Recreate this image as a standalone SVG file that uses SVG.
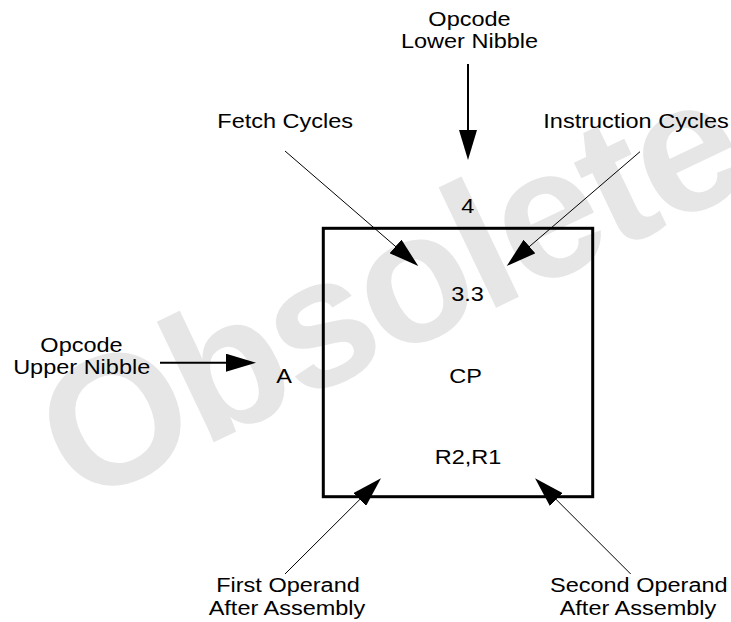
<svg xmlns="http://www.w3.org/2000/svg" width="731" height="622" viewBox="0 0 731 622">
<style>
text { font-family: "Liberation Sans", Arial, sans-serif; font-size: 20px; fill: #000; }
.mid { text-anchor: middle; }
.wm { font-family: "Liberation Sans", Arial, sans-serif; font-weight: bold; font-size: 184px; letter-spacing: -5px; fill: #e6e6e6; }
.thick { stroke: #000; stroke-width: 2; fill: none; }
.thin { stroke: #000; stroke-width: 1; fill: none; }
</style>
<defs>
<marker id="ah" viewBox="0 0 30 18" refX="20" refY="9" markerWidth="30" markerHeight="18" markerUnits="userSpaceOnUse" orient="auto">
<path d="M0,0 L30,9 L0,18 Z" fill="#000"/>
</marker>
</defs>
<rect width="731" height="622" fill="#fff"/>
<text class="wm" x="0" y="0" transform="translate(78 507) rotate(-25.5)">Obsolete</text>

<g id="box">
<rect x="323.3" y="228.3" width="269.4" height="268.4" fill="none" stroke="#000" stroke-width="3"/>
<text class="mid" transform="translate(467.5 300.5) scale(1.175 1)">3.3</text>
<text class="mid" transform="translate(465.5 382.7) scale(1.175 1)">CP</text>
<text class="mid" transform="translate(468 464) scale(1.175 1)">R2,R1</text>
</g>
<g id="label-lower">
<text class="mid" transform="translate(469.5 26) scale(1.175 1)">Opcode</text>
<text class="mid" transform="translate(469.5 47.5) scale(1.175 1)">Lower Nibble</text>
</g>
<g id="label-4">
<text class="mid" transform="translate(467.7 213) scale(1.175 1)">4</text>
</g>
<g id="label-fetch">
<text transform="translate(217.3 128) scale(1.175 1)">Fetch Cycles</text>
</g>
<g id="label-instr">
<text transform="translate(543.3 128) scale(1.175 1)">Instruction Cycles</text>
</g>
<g id="label-upper">
<text class="mid" transform="translate(81.5 351.7) scale(1.175 1)">Opcode</text>
<text class="mid" transform="translate(81.7 374) scale(1.175 1)">Upper Nibble</text>
</g>
<g id="label-A">
<text class="mid" transform="translate(284 382.7) scale(1.175 1)">A</text>
</g>
<g id="label-first">
<text class="mid" transform="translate(288 591.7) scale(1.175 1)">First Operand</text>
<text class="mid" transform="translate(287 615) scale(1.175 1)">After Assembly</text>
</g>
<g id="label-second">
<text class="mid" transform="translate(638.8 591.7) scale(1.175 1)">Second Operand</text>
<text class="mid" transform="translate(638 615) scale(1.175 1)">After Assembly</text>
</g>

<g id="connectors">
<line class="thick" x1="468" y1="64" x2="468" y2="150" marker-end="url(#ah)"/>
<line class="thick" x1="160" y1="362.7" x2="246" y2="362.7" marker-end="url(#ah)"/>
<line class="thin" x1="285" y1="151" x2="410.7" y2="259.5" marker-end="url(#ah)"/>
<line class="thin" x1="640" y1="151.7" x2="514.3" y2="259.5" marker-end="url(#ah)"/>
<line class="thin" x1="285" y1="574" x2="373.9" y2="485.4" marker-end="url(#ah)"/>
<line class="thin" x1="630.7" y1="574" x2="542.1" y2="485.4" marker-end="url(#ah)"/>
</g>
</svg>
